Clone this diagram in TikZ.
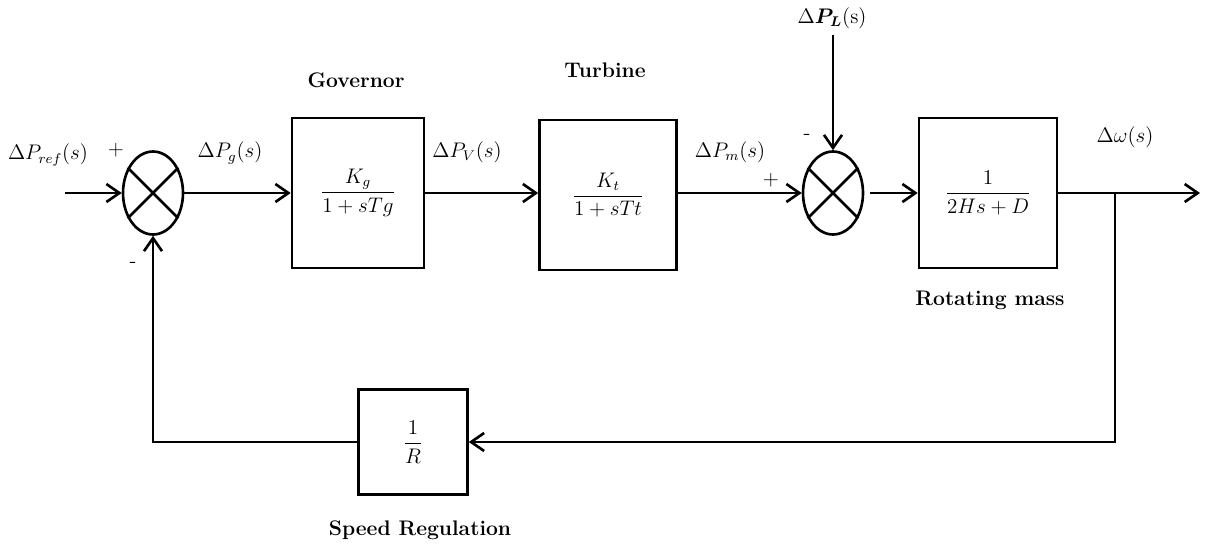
\documentclass[tikz,border=0pt]{standalone}
\usepackage{amsmath}
\usetikzlibrary{shapes.geometric,arrows.meta}
\begin{document}
\begin{tikzpicture}[x=0.02cm,y=-0.02cm,line width=1.5pt,
    >={Straight Barb[length=2.6mm,width=3.6mm]},
    block/.style={draw,minimum height=3cm,inner sep=0pt,font=\large},
    sumj/.style={draw,ellipse,minimum width=1.2cm,minimum height=1.66cm,inner sep=0pt},
    lbl/.style={font=\large},
    title/.style={font=\large\bfseries}]
    \useasboundingbox (0,0) rectangle (1209,545);
    % summing junctions
    \node[sumj] (sum1) at (153,193) {};
    \node[sumj] (sum2) at (833,193) {};
    \draw (sum1.45) -- (sum1.225) (sum1.135) -- (sum1.315);
    \draw (sum2.45) -- (sum2.225) (sum2.135) -- (sum2.315);
    % blocks
    \node[block,minimum width=2.64cm] (gov) at (358,193) {$\dfrac{K_g}{1+sTg}$};
    \node[block,minimum width=2.74cm] (turb) at (608,195) {$\dfrac{K_t}{1+sTt}$};
    \node[block,minimum width=2.76cm] (mass) at (988,193) {$\dfrac{1}{2Hs+D}$};
    \node[block,minimum width=2.18cm,minimum height=2.1cm] (regl) at (413,442) {$\dfrac{1}{R}$};
    % titles
    \node[title] (tgov) at (356,80) {Governor};
    \node[title] (tturb) at (605,70) {Turbine};
    \node[title] (tmass) at (990,300) {Rotating mass};
    \node[title] (tregl) at (420,530) {Speed Regulation};
    % signal labels
    \node[lbl] (lref) at (48,155) {$\Delta P_{ref}(s)$};
    \node[lbl] (lg) at (230,153) {$\Delta P_g(s)$};
    \node[lbl] (lv) at (467,152) {$\Delta P_V(s)$};
    \node[lbl] (lm) at (730,152) {$\Delta P_m(s)$};
    \node[lbl] (ll) at (832,18) {$\Delta\boldsymbol{P_L}$(s)};
    \node[lbl] (lw) at (1125,137) {$\Delta\omega(s)$};
    \node[lbl] (p1) at (116,150) {$+$};
    \node[lbl] (m1) at (133,265) {-};
    \node[lbl] (p2) at (771,180) {$+$};
    \node[lbl] (m2) at (807,137) {-};
    % connectors
    \coordinate (in) at (65,193);
    \coordinate (out) at (1200,193);
    \coordinate (load) at (833,35);
    \coordinate (branch) at (1115,193);
    \draw[->] (in) -- (sum1.west);
    \draw[->] (sum1.east) -- (gov.west);
    \draw[->] (gov.east) -- (turb.west |- gov.east);
    \draw[->] (turb.east |- sum2.west) -- (sum2.west);
    \draw[->] (load) -- (sum2.north);
    \draw[->,shorten <=1.2mm] (sum2.east) -- (mass.west);
    \draw[->] (mass.east) -- (out);
    \draw[->] (branch) |- (regl.east);
    \draw[->] (regl.west) -| (sum1.south);
\end{tikzpicture}
\end{document}
